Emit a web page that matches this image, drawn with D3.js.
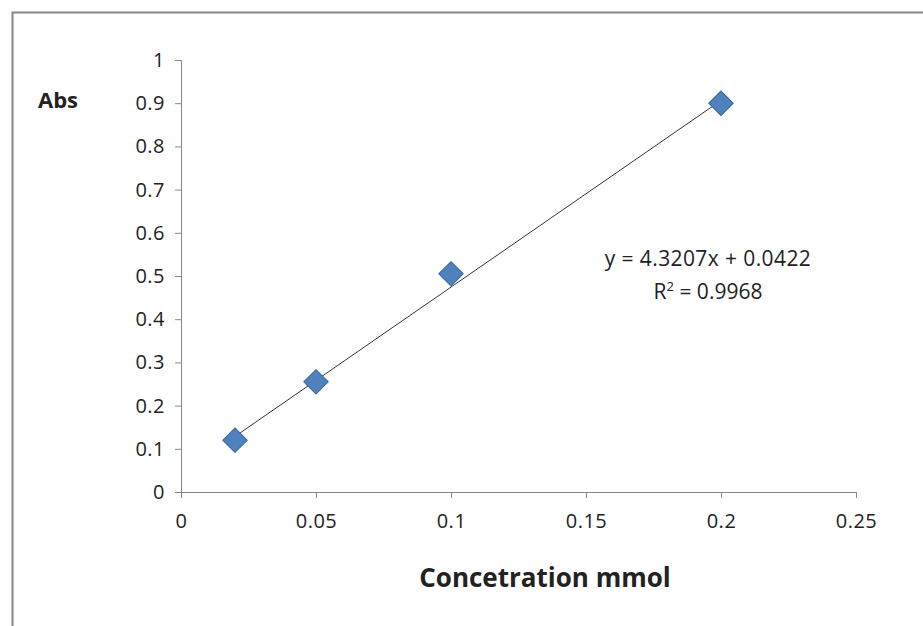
<!DOCTYPE html><html><head><meta charset="utf-8"><script src="https://cdn.jsdelivr.net/npm/d3@7"></script>
<style>body{margin:0;background:#fff}text{font-family:"Open Sans",sans-serif;fill:#222}</style></head><body><svg width="923" height="626"></svg><script>
const xs=[0.02,0.05,0.1,0.2];
const ys=[0.12,0.255,0.505,0.9];
const xTicks=[0,0.05,0.1,0.15,0.2,0.25];
const yTicks=[0,0.1,0.2,0.3,0.4,0.5,0.6,0.7,0.8,0.9,1];
const slope=4.3207,icpt=0.0422;
const svg=d3.select("svg");
svg.append("path").attr("d","M12.5,626V12.5H923").attr("fill","none").attr("stroke","#888").attr("stroke-width",2);
const x=d3.scaleLinear([0,0.25],[181,856]),y=d3.scaleLinear([0,1],[492,60]);
const fmt=d=>String(d);
const gx=svg.append("g").attr("transform","translate(0,492)").call(d3.axisBottom(x).tickValues(xTicks).tickFormat(fmt).tickSize(6).tickPadding(16));
const gy=svg.append("g").attr("transform","translate(181,0)").call(d3.axisLeft(y).tickValues(yTicks).tickFormat(fmt).tickSize(6).tickPadding(10));
[gx,gy].forEach(g=>{g.selectAll("path,line").attr("stroke","#888");g.selectAll("text").style("font-size","20px").style("letter-spacing","0.5px").attr("fill","#222");});
svg.append("line").attr("x1",x(0.02)).attr("y1",y(slope*0.02+icpt)).attr("x2",x(0.2)).attr("y2",y(slope*0.2+icpt)).attr("stroke","#333").attr("stroke-width",1);
svg.selectAll(".p").data(xs).join("path").attr("d",d3.symbol(d3.symbolSquare,300)()).attr("transform",(d,i)=>`translate(${x(d)},${y(ys[i])}) rotate(45)`).attr("fill","#4f81bd").attr("stroke","#3a6799").attr("stroke-width",1);
svg.append("text").attr("x",38).attr("y",108).style("font-size","22px").style("font-weight","bold").text("Abs");
svg.append("text").attr("x",545).attr("y",587).attr("text-anchor","middle").style("font-size","26px").style("font-weight","bold").text("Concetration mmol");
svg.append("text").attr("x",708).attr("y",266).attr("text-anchor","middle").style("font-size","21px").style("letter-spacing","0.4px").text("y = 4.3207x + 0.0422");
const t=svg.append("text").attr("x",708).attr("y",299).attr("text-anchor","middle").style("font-size","21px");
t.append("tspan").text("R");t.append("tspan").attr("dy",-8).style("font-size","13px").text("2");t.append("tspan").attr("dy",8).text(" = 0.9968");
</script></body></html>
